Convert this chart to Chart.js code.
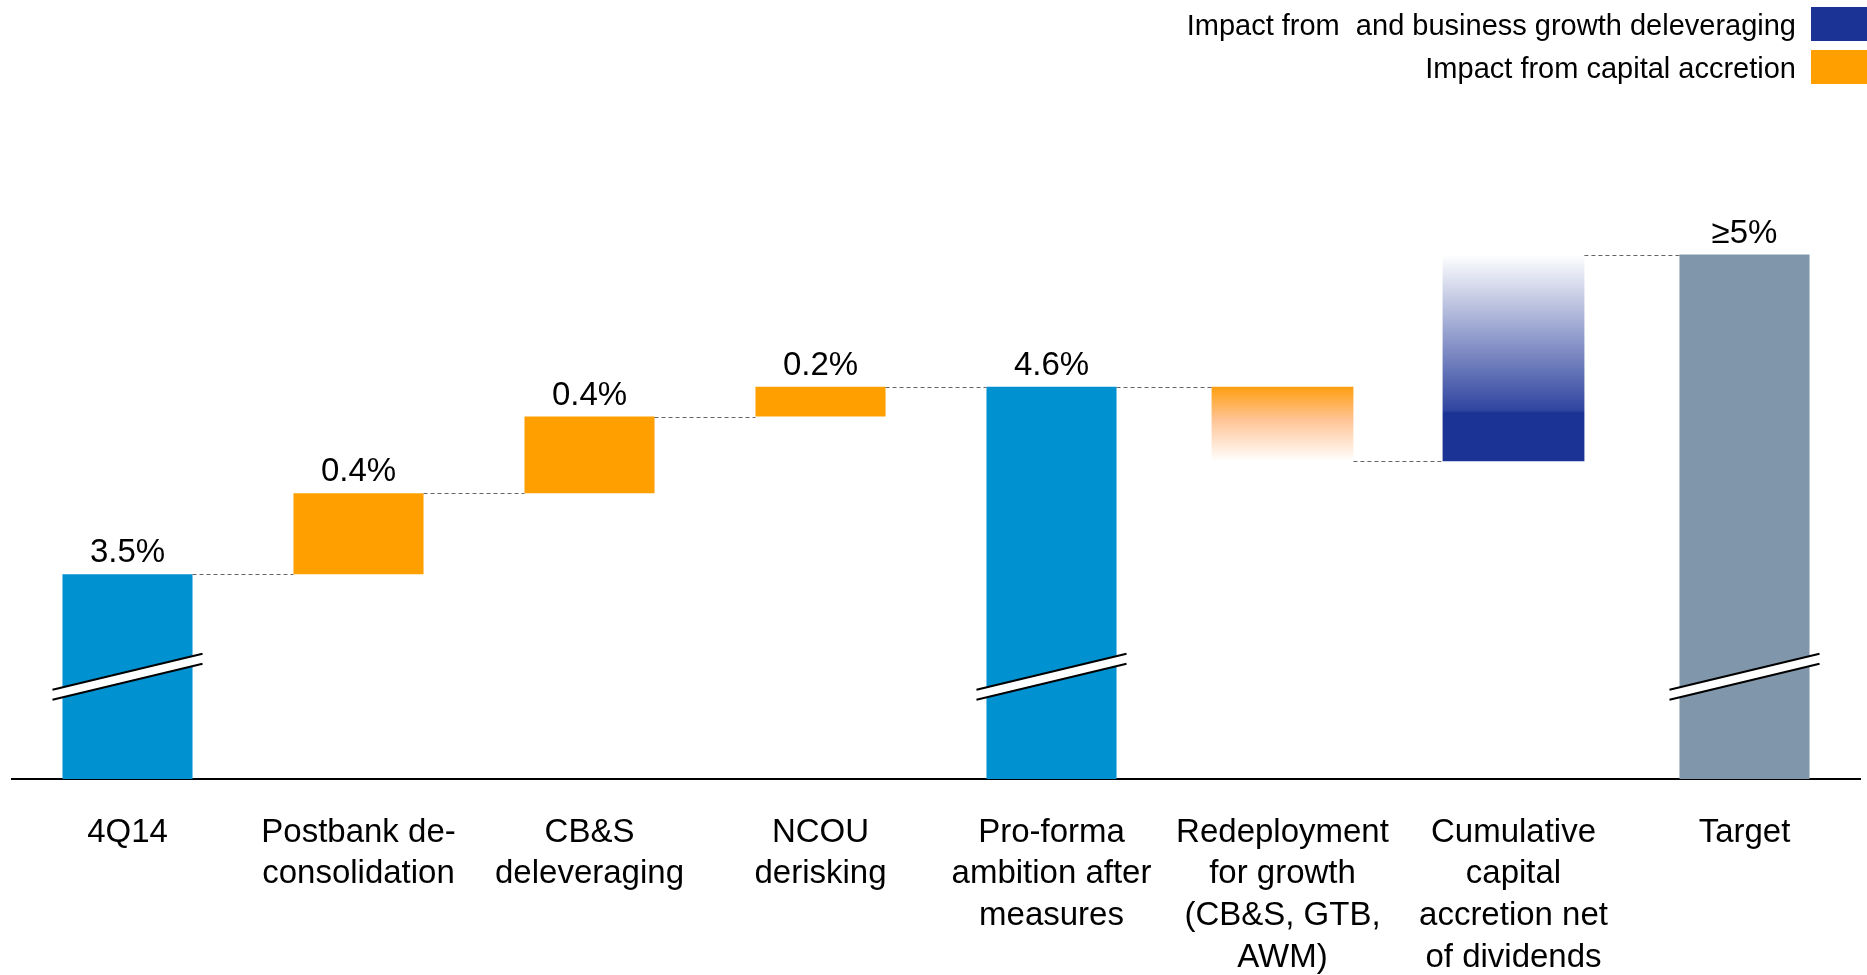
<!DOCTYPE html>
<html>
<head>
<meta charset="utf-8">
<script src="https://cdn.jsdelivr.net/npm/chart.js@4.4.1/dist/chart.umd.min.js"></script>
<style>
  html, body { margin: 0; padding: 0; background: #fff; }
</style>
</head>
<body>
<canvas id="myChart" width="1867" height="975"></canvas>
<script>
// categories and values (axis is broken, so bars start at 0 and get clipped)
var categories = [
  ["4Q14"],
  ["Postbank de-", "consolidation"],
  ["CB&S", "deleveraging"],
  ["NCOU", "derisking"],
  ["Pro-forma", "ambition after", "measures"],
  ["Redeployment", "for growth", "(CB&S, GTB,", "AWM)"],
  ["Cumulative", "capital", "accretion net", "of dividends"],
  ["Target"]
];
var barStart = [0, 3.5, 3.88, 4.24, 0, 4.03, 4.03, 0];
var barEnd   = [3.5, 3.88, 4.24, 4.38, 4.38, 4.38, 5.0, 5.0];
var valueLabels = ["3.5%", "0.4%", "0.4%", "0.2%", "4.6%", "", "", "\u22655%"];
var barColors = ["#0091d1", "#ffa000", "#ffa000", "#ffa000", "#0091d1", "#ffa000", "#1b3394", "#8096aa"];
var faded = [false, false, false, false, false, true, true, false];
var breakAt = 3.02;

var legendLabels = ["Impact from  and business growth deleveraging", "Impact from capital accretion"];
var legendColors = ["#1b3394", "#ffa000"];

var FONT = "'Liberation Sans', Arial, sans-serif";

function fadeFill(context) {
  var chart = context.chart;
  var i = context.dataIndex;
  if (!chart.chartArea || !chart.scales.y) return barColors[i];
  var y = chart.scales.y;
  var top = y.getPixelForValue(barEnd[i]);
  var bottom = y.getPixelForValue(barStart[i]);
  var g = chart.ctx.createLinearGradient(0, top, 0, bottom);
  if (i == 5) {
    g.addColorStop(0, "#ff9e0f");
    g.addColorStop(0.45, "#ffc596");
    g.addColorStop(1, "#ffffff");
  } else {
    g.addColorStop(0, "#ffffff");
    g.addColorStop(0.755, "#2f449f");
    g.addColorStop(0.765, "#1b3394");
    g.addColorStop(1, "#1b3394");
  }
  return g;
}

var extras = {
  id: "extras",
  afterDatasetsDraw: function(chart) {
    var c = chart.ctx;
    var y = chart.scales.y;
    var els = [];
    for (var i = 0; i < categories.length; i++) {
      var meta = chart.getDatasetMeta(faded[i] ? 1 : 0);
      els.push(meta.data[i]);
    }
    c.save();
    // dashed connectors
    c.strokeStyle = "#666";
    c.lineWidth = 1;
    c.setLineDash([4, 3]);
    for (var i = 0; i < els.length - 1; i++) {
      var a = [barStart[i], barEnd[i]], b = [barStart[i + 1], barEnd[i + 1]];
      var lvl = null;
      a.forEach(function(v) { if (b.indexOf(v) >= 0 && v > 0) lvl = v; });
      if (lvl === null) continue;
      var py = Math.round(y.getPixelForValue(lvl)) + 0.5;
      c.beginPath();
      c.moveTo(els[i].x + els[i].width / 2, py);
      c.lineTo(els[i + 1].x - els[i + 1].width / 2, py);
      c.stroke();
    }
    c.setLineDash([]);
    // axis break marks
    var yc = y.getPixelForValue(breakAt);
    for (var i = 0; i < els.length; i++) {
      if (barStart[i] !== 0) continue;
      var e = els[i];
      var x0 = e.x - e.width / 2 - 10, x1 = e.x + e.width / 2 + 10;
      var s = 0.24;
      var u0 = yc - 5 + s * (e.x - x0), u1 = yc - 5 - s * (x1 - e.x);
      c.fillStyle = "#fff";
      c.beginPath();
      c.moveTo(x0, u0); c.lineTo(x1, u1); c.lineTo(x1, u1 + 10); c.lineTo(x0, u0 + 10);
      c.closePath();
      c.fill();
      c.strokeStyle = "#000";
      c.lineWidth = 2;
      c.beginPath();
      c.moveTo(x0, u0); c.lineTo(x1, u1);
      c.moveTo(x0, u0 + 10); c.lineTo(x1, u1 + 10);
      c.stroke();
    }
    // value labels
    c.fillStyle = "#000";
    c.font = "33px " + FONT;
    c.textAlign = "center";
    c.textBaseline = "middle";
    for (var i = 0; i < els.length; i++) {
      if (!valueLabels[i]) continue;
      c.fillText(valueLabels[i], els[i].x, y.getPixelForValue(barEnd[i]) - 21);
    }
    c.restore();
  },
  afterDraw: function(chart) {
    var c = chart.ctx;
    c.save();
    c.font = "29px " + FONT;
    c.textAlign = "right";
    c.textBaseline = "middle";
    for (var i = 0; i < legendLabels.length; i++) {
      var cy = 24 + i * 43;
      c.fillStyle = legendColors[i];
      c.fillRect(1811, cy - 17, 56, 34);
      c.fillStyle = "#000";
      c.fillText(legendLabels[i], 1796, cy + 2.5);
    }
    c.restore();
  }
};

new Chart("myChart", {
  type: "bar",
  data: {
    labels: categories,
    datasets: [{
      data: categories.map(function(c, i) { return faded[i] ? null : [barStart[i], barEnd[i]]; }),
      backgroundColor: barColors,
      barPercentage: 0.563,
      categoryPercentage: 1,
      grouped: false
    }, {
      data: categories.map(function(c, i) { return faded[i] ? [barStart[i], barEnd[i]] : null; }),
      backgroundColor: fadeFill,
      barPercentage: 0.614,
      categoryPercentage: 1,
      grouped: false
    }]
  },
  options: {
    responsive: false,
    animation: false,
    layout: { padding: { top: 148, left: 12, right: 7, bottom: 0 } },
    plugins: { legend: { display: false }, tooltip: { enabled: false } },
    scales: {
      x: {
        grid: { display: false, drawTicks: false },
        border: { display: true, color: "#000", width: 2 },
        ticks: {
          color: "#000",
          font: { size: 33, family: FONT, lineHeight: 1.26 },
          padding: 33,
          maxRotation: 0,
          autoSkip: false
        },
        afterFit: function(s) { s.height = 196; }
      },
      y: { display: false, min: 2.54, max: 5.5 }
    }
  },
  plugins: [extras]
});
</script>
</body>
</html>
